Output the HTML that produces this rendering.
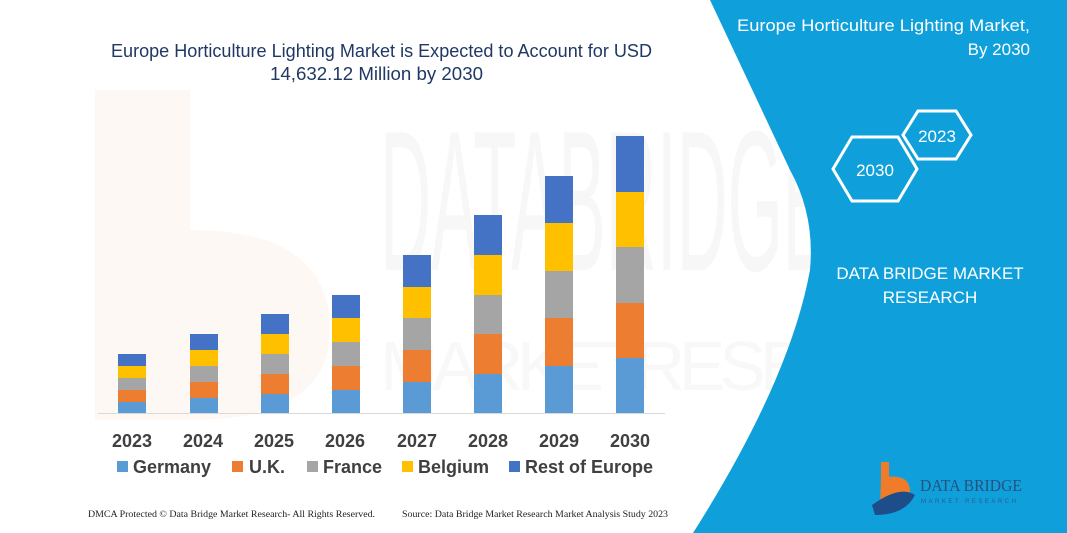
<!DOCTYPE html>
<html><head><style>
body{margin:0;width:1067px;height:533px;overflow:hidden;background:#fff;font-family:"Liberation Sans",sans-serif;position:relative}
</style></head><body>
<svg width="1067" height="533" style="position:absolute;left:0;top:0">
<!-- watermark -->
<path d="M95 90 L190 90 L190 230 Q330 230 330 330 Q330 420 190 420 L95 420 Z" fill="#fdf3ec" opacity="0.6"/>
<text x="380" y="270" font-size="200" fill="#f7f7f7" font-family="Liberation Sans" textLength="450" lengthAdjust="spacingAndGlyphs">DATABRIDGE</text>
<text x="380" y="390" font-size="70" fill="#f8f8f8" font-family="Liberation Sans" textLength="600" lengthAdjust="spacing">MARKETRESEARCH</text>
<!-- title -->
<text x="111" y="57" font-size="18" fill="#1f3864" textLength="541" lengthAdjust="spacingAndGlyphs">Europe Horticulture Lighting Market is Expected to Account for USD</text>
<text x="270" y="80" font-size="18" fill="#1f3864" textLength="213" lengthAdjust="spacingAndGlyphs">14,632.12 Million by 2030</text>
<!-- axis -->
<line x1="98" y1="413.5" x2="665" y2="413.5" stroke="#d9d9d9" stroke-width="1"/>
<g id="bars"></g>
<!-- years -->
<g font-size="18" font-weight="bold" fill="#404040" text-anchor="middle">
<text x="132" y="447">2023</text><text x="203" y="447">2024</text><text x="274" y="447">2025</text><text x="345" y="447">2026</text>
<text x="417" y="447">2027</text><text x="488" y="447">2028</text><text x="559" y="447">2029</text><text x="630" y="447">2030</text>
</g>
<!-- legend -->
<g font-size="18" font-weight="bold" fill="#404040">
<rect x="117" y="461" width="11" height="11" fill="#5b9bd5"/><text x="133" y="473">Germany</text>
<rect x="232" y="461" width="11" height="11" fill="#ed7d31"/><text x="249" y="473">U.K.</text>
<rect x="307" y="461" width="11" height="11" fill="#a5a5a5"/><text x="323" y="473">France</text>
<rect x="402" y="461" width="11" height="11" fill="#ffc000"/><text x="418" y="473">Belgium</text>
<rect x="509" y="461" width="11" height="11" fill="#4472c4"/><text x="525" y="473">Rest of Europe</text>
</g>
<g font-family="Liberation Serif" font-size="9" fill="#222">
<text x="88" y="517" textLength="287" lengthAdjust="spacingAndGlyphs">DMCA Protected © Data Bridge Market Research-  All Rights Reserved.</text>
<text x="402" y="517" textLength="266" lengthAdjust="spacingAndGlyphs">Source: Data Bridge Market Research  Market Analysis Study 2023</text>
</g>
<!-- right panel -->
<path d="M710 0 L1067 0 L1067 533 L693 533 Q790 380 810 270 Q815 215 790 170 Z" fill="#0fa0dc"/>
<text x="1030" y="31" text-anchor="end" font-size="17" fill="#fff" textLength="293" lengthAdjust="spacingAndGlyphs">Europe Horticulture Lighting Market,</text>
<text x="1030" y="55" text-anchor="end" font-size="17" fill="#fff">By 2030</text>
<polygon points="903,135 918,111 956,111 971,135 956,159 918,159" fill="none" stroke="#fff" stroke-width="3"/>
<text x="937" y="142" text-anchor="middle" font-size="17" fill="#fff">2023</text>
<polygon points="833,169 852,137 898,137 917,169 898,201 852,201" fill="none" stroke="#fff" stroke-width="3"/>
<text x="875" y="176" text-anchor="middle" font-size="17" fill="#fff">2030</text>
<text x="930" y="279" text-anchor="middle" font-size="17" fill="#fff">DATA BRIDGE MARKET</text>
<text x="930" y="303" text-anchor="middle" font-size="17" fill="#fff">RESEARCH</text>
<!-- logo -->
<rect x="881" y="462" width="8" height="28" fill="#f07c2a"/>
<path d="M881 478 Q910 472 910 492 Q905 510 880 508 Z" fill="#f07c2a"/>
<path d="M872 505 Q900 485 915 495 Q905 515 875 515 Z" fill="#1d4e89"/>
<text x="920" y="491" font-family="Liberation Serif" font-size="17" fill="#26517f" textLength="102" lengthAdjust="spacingAndGlyphs">DATA BRIDGE</text>
<text x="921" y="503" font-size="6" fill="#2c5b8a" letter-spacing="2.5">MARKET RESEARCH</text>
</svg>
<script>
var data=[[118,[413,402,390,378,366,354]],[190,[413,398,382,366,350,334]],[261,[413,394,374,354,334,314]],[332,[413,390,366,342,318,295]],[403,[413,382,350,318,287,255]],[474,[413,374,334,295,255,215]],[545,[413,366,318,271,223,176]],[616,[413,358,303,247,192,136]]];
var cols=["#5b9bd5","#ed7d31","#a5a5a5","#ffc000","#4472c4"];
var g=document.getElementById("bars"),s="";
data.forEach(function(d){for(var i=0;i<5;i++){s+='<rect x="'+d[0]+'" y="'+d[1][i+1]+'" width="28" height="'+(d[1][i]-d[1][i+1])+'" fill="'+cols[i]+'"/>';}});
g.innerHTML=s;
</script>
</body></html>
